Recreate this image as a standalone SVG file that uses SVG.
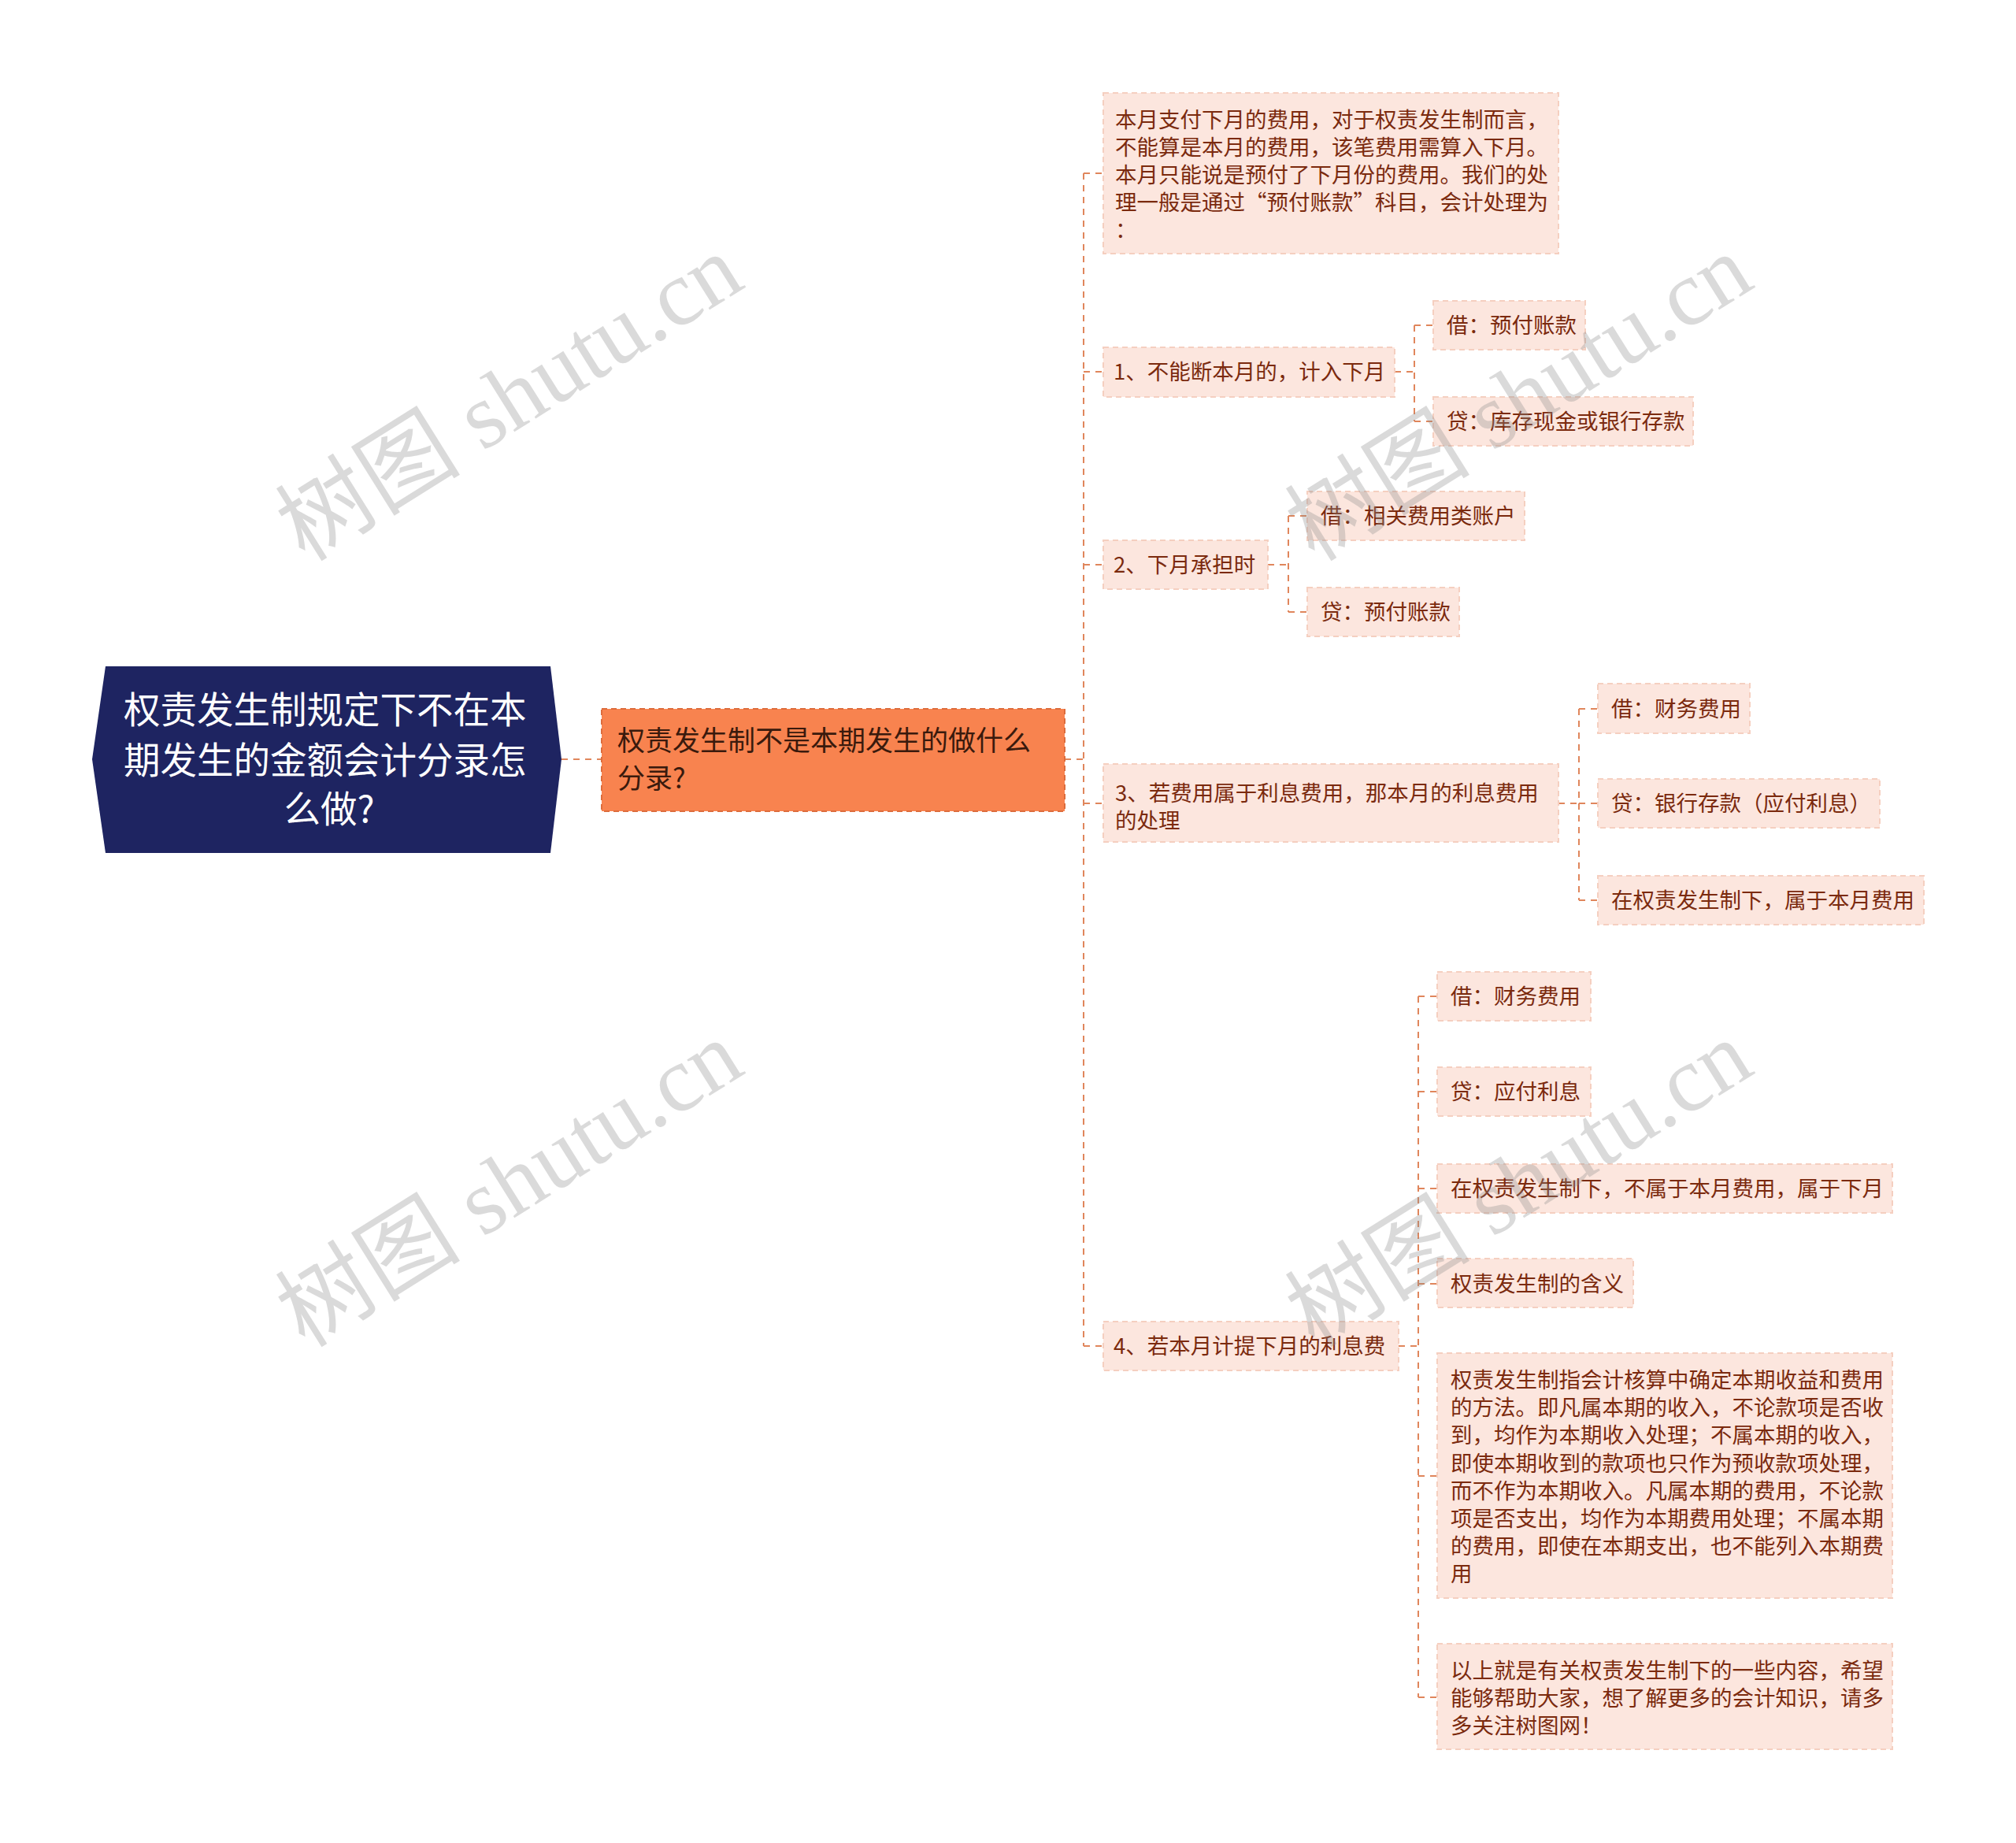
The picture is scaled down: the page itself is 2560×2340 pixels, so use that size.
<svg xmlns="http://www.w3.org/2000/svg" width="2560" height="2340" viewBox="0 0 2560 2340">
<style>
.t{font-family:"Noto Sans CJK SC","Noto Sans",sans-serif;font-size:27.5px;fill:#7B2A0E}
.box{fill:#FCE6DE;stroke:#F5CFC0;stroke-width:2;stroke-dasharray:7 5}
.e{fill:none;stroke:#E0865C;stroke-width:2;stroke-dasharray:8 7}
.wm{font-family:"Liberation Serif","Noto Sans CJK SC",serif;font-size:118px;fill:#8c8c8c;fill-opacity:0.32}
</style>
<rect width="2560" height="2340" fill="#ffffff"/>
<g id="connectors">
<path class="e" d="M713,964 H764"/>
<path class="e" d="M1352,964 H1376"/>
<path class="e" d="M1376,220 V1709"/>
<path class="e" d="M1376,220 H1401 M1376,472 H1401 M1376,717 H1401 M1376,1020 H1401 M1376,1709 H1401"/>
<path class="e" d="M1771,472 H1796 M1796,413 V535 M1796,413 H1820 M1796,535 H1820"/>
<path class="e" d="M1610,717 H1636 M1636,655 V777 M1636,655 H1660 M1636,777 H1660"/>
<path class="e" d="M1979,1020 H2005 M2005,900 V1143 M2005,900 H2029 M2005,1020 H2029 M2005,1143 H2029"/>
<path class="e" d="M1776,1709 H1801 M1801,1265 V2155 M1801,1265 H1825 M1801,1386 H1825 M1801,1509 H1825 M1801,1630 H1825 M1801,1874 H1825 M1801,2155 H1825"/>
</g>
<g id="root">
<polygon points="117,964 134,846 699,846 713,964 699,1083 134,1083" fill="#1E2461"/>
<text font-family="Noto Sans CJK SC,sans-serif" font-size="46.5" fill="#ffffff" text-anchor="middle">
<tspan x="418" y="918">权责发生制规定下不在本</tspan>
<tspan x="418" y="982">期发生的金额会计分录怎</tspan>
<tspan x="418" y="1044">么做?</tspan>
</text>
</g>
<g id="main">
<rect x="764" y="900" width="588" height="130" fill="#F8834F" stroke="#DD6C3C" stroke-width="2" stroke-dasharray="7 5"/>
<text font-family="Noto Sans CJK SC,sans-serif" font-size="35" fill="#3A1A0D">
<tspan x="784" y="953">权责发生制不是本期发生的做什么</tspan>
<tspan x="784" y="1001">分录?</tspan>
</text>
</g>
<g id="nA">
<rect class="box" x="1401" y="118" width="578" height="204"/>
<text class="t"><tspan x="1416" y="162">本月支付下月的费用，对于权责发生制而言，</tspan><tspan x="1416" y="197">不能算是本月的费用，该笔费用需算入下月。</tspan><tspan x="1416" y="232">本月只能说是预付了下月份的费用。我们的处</tspan><tspan x="1416" y="267">理一般是通过“预付账款”科目，会计处理为</tspan><tspan x="1416" y="302">：</tspan></text>
</g>
<g id="n1">
<rect class="box" x="1401" y="441" width="370" height="63"/>
<text class="t" x="1414" y="482">1、不能断本月的，计入下月</text>
</g>
<g id="n1a">
<rect class="box" x="1820" y="382" width="193" height="62"/>
<text class="t" x="1837" y="423">借：预付账款</text>
</g>
<g id="n1b">
<rect class="box" x="1820" y="504" width="330" height="62"/>
<text class="t" x="1837" y="545">贷：库存现金或银行存款</text>
</g>
<g id="n2">
<rect class="box" x="1401" y="686" width="209" height="62"/>
<text class="t" x="1414" y="727">2、下月承担时</text>
</g>
<g id="n2a">
<rect class="box" x="1660" y="624" width="276" height="62"/>
<text class="t" x="1677" y="665">借：相关费用类账户</text>
</g>
<g id="n2b">
<rect class="box" x="1660" y="746" width="193" height="62"/>
<text class="t" x="1677" y="787">贷：预付账款</text>
</g>
<g id="n3">
<rect class="box" x="1401" y="970" width="578" height="99"/>
<text class="t"><tspan x="1416" y="1017">3、若费用属于利息费用，那本月的利息费用</tspan><tspan x="1416" y="1052">的处理</tspan></text>
</g>
<g id="n3a">
<rect class="box" x="2029" y="868" width="193" height="63"/>
<text class="t" x="2046" y="910">借：财务费用</text>
</g>
<g id="n3b">
<rect class="box" x="2029" y="989" width="358" height="62"/>
<text class="t" x="2046" y="1030">贷：银行存款（应付利息）</text>
</g>
<g id="n3c">
<rect class="box" x="2029" y="1112" width="414" height="62"/>
<text class="t" x="2046" y="1153">在权责发生制下，属于本月费用</text>
</g>
<g id="n4">
<rect class="box" x="1401" y="1678" width="375" height="62"/>
<text class="t" x="1414" y="1719">4、若本月计提下月的利息费</text>
</g>
<g id="n4a">
<rect class="box" x="1825" y="1234" width="195" height="62"/>
<text class="t" x="1842" y="1275">借：财务费用</text>
</g>
<g id="n4b">
<rect class="box" x="1825" y="1355" width="195" height="62"/>
<text class="t" x="1842" y="1396">贷：应付利息</text>
</g>
<g id="n4c">
<rect class="box" x="1825" y="1478" width="578" height="62"/>
<text class="t" x="1842" y="1519">在权责发生制下，不属于本月费用，属于下月</text>
</g>
<g id="n4d">
<rect class="box" x="1825" y="1598" width="249" height="62"/>
<text class="t" x="1842" y="1640">权责发生制的含义</text>
</g>
<g id="n4e">
<rect class="box" x="1825" y="1718" width="578" height="311"/>
<text class="t"><tspan x="1842" y="1762">权责发生制指会计核算中确定本期收益和费用</tspan><tspan x="1842" y="1797">的方法。即凡属本期的收入，不论款项是否收</tspan><tspan x="1842" y="1832">到，均作为本期收入处理；不属本期的收入，</tspan><tspan x="1842" y="1868">即使本期收到的款项也只作为预收款项处理，</tspan><tspan x="1842" y="1903">而不作为本期收入。凡属本期的费用，不论款</tspan><tspan x="1842" y="1938">项是否支出，均作为本期费用处理；不属本期</tspan><tspan x="1842" y="1973">的费用，即使在本期支出，也不能列入本期费</tspan><tspan x="1842" y="2008">用</tspan></text>
</g>
<g id="n4f">
<rect class="box" x="1825" y="2087" width="578" height="134"/>
<text class="t"><tspan x="1842" y="2131">以上就是有关权责发生制下的一些内容，希望</tspan><tspan x="1842" y="2166">能够帮助大家，想了解更多的会计知识，请多</tspan><tspan x="1842" y="2201">多关注树图网！</tspan></text>
</g>
<g id="watermarks" text-anchor="middle">
<text class="wm" transform="translate(668,539) rotate(-32)">树图 shutu.cn</text>
<text class="wm" transform="translate(1950,539) rotate(-32)">树图 shutu.cn</text>
<text class="wm" transform="translate(668,1537) rotate(-32)">树图 shutu.cn</text>
<text class="wm" transform="translate(1950,1537) rotate(-32)">树图 shutu.cn</text>
</g>
</svg>
